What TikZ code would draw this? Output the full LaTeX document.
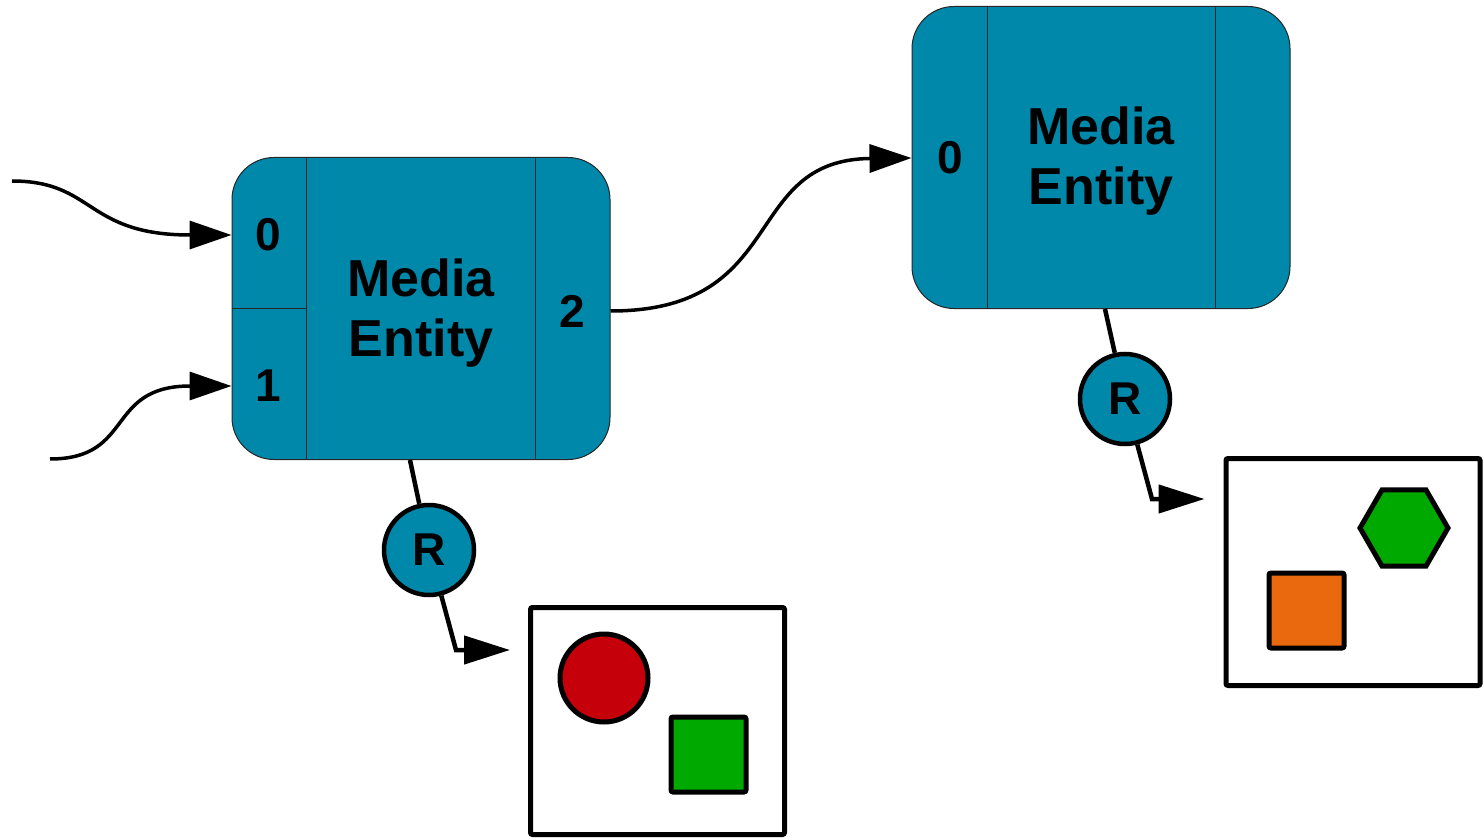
\documentclass[tikz,border=0pt]{standalone}
\usepackage{fontspec}
\setmainfont{Liberation Sans}
\usetikzlibrary{arrows.meta,calc,shapes.geometric}
\definecolor{entfill}{RGB}{0,136,170}
\definecolor{shred}{RGB}{197,0,11}
\definecolor{shgreen}{RGB}{0,169,0}
\definecolor{shorange}{RGB}{235,105,14}
\begin{document}
\begin{tikzpicture}[x=1pt,y=-1pt,
  entity/.style={draw=black!85, line width=1pt, fill=entfill, rounded corners=42pt,
    minimum width=378pt, minimum height=302pt, inner sep=0pt},
  divider/.style={draw=black!85, line width=1pt},
  portlbl/.style={font=\fontsize{46}{50}\selectfont\bfseries, inner sep=0pt},
  titlelbl/.style={font=\fontsize{52}{60}\selectfont\bfseries, align=center, inner sep=0pt},
  rnode/.style={circle, draw=black, line width=4.5pt, fill=entfill, minimum size=90pt,
    inner sep=0pt, font=\fontsize{46}{50}\selectfont\bfseries},
  conn/.style={draw=black, line width=3.5pt, -{Triangle[length=42pt,width=28pt]}},
  rline/.style={draw=black, line width=4.5pt},
  rconn/.style={draw=black, line width=4.5pt, -{Triangle[length=46pt,width=28pt]}},
  picbox/.style={draw=black, line width=5pt, fill=white, rounded corners=2pt,
    minimum width=254pt, minimum height=227pt, inner sep=0pt},
  shp/.style={draw=black, line width=5pt, inner sep=0pt}
]
\useasboundingbox (0,0) rectangle (1484,840);

% left entity
\node[entity] (e1) at (421,308.5) {};
\draw[divider] ([xshift=75pt]e1.north west) -- ([xshift=75pt]e1.south west);
\draw[divider] ([xshift=-75pt]e1.north east) -- ([xshift=-75pt]e1.south east);
\draw[divider] ([yshift=-151pt]e1.north west) -- ([yshift=-151pt,xshift=75pt]e1.north west);
\node[portlbl] (p0) at (268,235) {0};
\node[portlbl] (p1) at (268,386) {1};
\node[portlbl] (p2) at (572,311) {2};
\node[titlelbl] (t1) at (421,313) {Media\\Entity};

% right entity
\node[entity] (e2) at (1101,157.5) {};
\draw[divider] ([xshift=76pt]e2.north west) -- ([xshift=76pt]e2.south west);
\draw[divider] ([xshift=-75pt]e2.north east) -- ([xshift=-75pt]e2.south east);
\node[portlbl] (q0) at (950,158) {0};
\node[titlelbl] (t2) at (1101,161) {Media\\Entity};

% incoming connectors
\coordinate (s0) at (12,181);
\coordinate (s1) at (50,459);
\draw[conn] (s0) .. controls (95,181) and (85,235) .. (e1.west |- p0);
\draw[conn] (s1) .. controls (135,459) and (105,386) .. (e1.west |- p1);
\draw[conn] (e1.east |- p2) .. controls (790,311) and (740,160) .. (e2.west |- q0);

% R nodes
\node[rnode] (r1) at (429,550) {R};
\node[rnode] (r2) at (1125,399) {R};

% picture boxes
\node[picbox] (pic1) at (657.5,721) {};
\node[picbox] (pic2) at (1353,572) {};

\coordinate (b1) at (456,650);
\coordinate (b2) at (1152,499);
\draw[rline] ([xshift=-11pt]e1.south) -- (r1);
\draw[rconn] (r1) -- (b1) -- ([xshift=-18pt]pic1.west |- b1);
\draw[rline] ([xshift=4pt]e2.south) -- (r2);
\draw[rconn] (r2) -- (b2) -- ([xshift=-19pt]pic2.west |- b2);

% shapes in picture 1
\node[shp, circle, fill=shred, minimum size=88pt] (c1) at (604,678) {};
\node[shp, rectangle, fill=shgreen, rounded corners=2pt, minimum size=75pt] (sq1) at (708.5,754.5) {};

% shapes in picture 2
\node[shp, regular polygon, regular polygon sides=6, fill=shgreen, minimum size=88pt] (hx) at (1404,528) {};
\node[shp, rectangle, fill=shorange, rounded corners=2pt, minimum size=75pt] (sq2) at (1306.5,610.5) {};
\end{tikzpicture}
\end{document}
